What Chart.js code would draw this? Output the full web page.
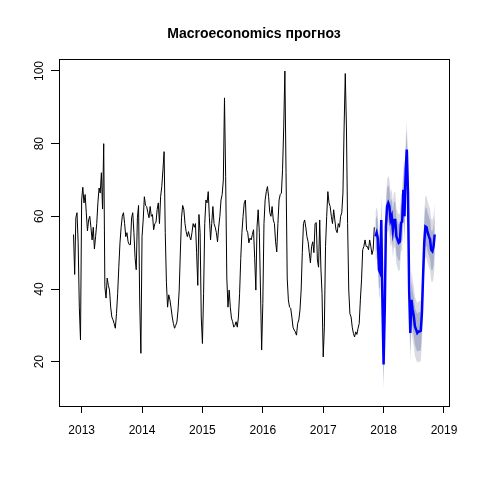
<!DOCTYPE html>
<html lang="ru">
<head>
    <meta charset="UTF-8">
    <title>Macroeconomics прогноз</title>
    <script src="https://cdn.jsdelivr.net/npm/chart.js"></script>
    <style>
        body {
            margin: 0;
            background-color: #fff;
        }
        #chart {
            display: block;
        }
    </style>
</head>
<body>
    <canvas id="chart" width="480" height="480"></canvas>

    <script>
        // weekly series, first observation is week 46 of 2012
        const startYear = 2012 + 45 / 52;
        const freq = 52;

        const history = [
            55, 44, 59.6, 61, 52.7, 35,
            26, 64.5, 68, 63.7, 66, 61,
            56, 59, 60, 57, 53.5, 57,
            51, 54.4, 58, 63.7, 67.8, 66.4,
            72, 62, 80, 40.6, 37.5, 43,
            41, 39.7, 35, 32.3, 31.5, 30.5,
            29.2, 33.2, 38.7, 46, 52.7, 57,
            60, 61, 58, 54.4, 55.5, 53,
            52.2, 52.2, 59.6, 61, 55.5, 48.6,
            45.3, 59.6, 63, 36.4, 22.3, 54.4,
            59, 65.4, 63, 62.7, 61,
            59.6, 62.7, 60, 60.5, 56.3, 58,
            58.3, 61.8, 63.7, 58, 65.4, 68.2,
            72.8, 77.8, 55.5, 41.7, 35, 38.4,
            37, 34.8, 32.3, 30.5, 29.2, 30,
            30.9, 34.2, 39.7, 50.2, 59.6, 63,
            61.8, 58, 55.8, 54.4, 55.8, 54.4,
            53.5, 55.5, 58, 57, 58, 50,
            41, 60.5, 55.5, 32.3, 25, 38.7,
            58, 64.5, 63.7, 66.8, 59.6, 53.5,
            58, 62.7, 58, 57, 55.5, 53,
            57, 60, 64.5, 66, 70, 92.6,
            71, 43, 35, 39.7, 35, 32,
            31, 29.5, 30, 31, 29.5, 32.3,
            38.7, 48.4, 55.5, 60, 63.7, 64.5,
            56.3, 55.5, 52.7, 54, 53.5, 55,
            56.3, 48.4, 39.7, 57, 61.8, 55.5,
            39.7, 23.2, 36, 58, 64.5, 66.8,
            68.2, 65.4, 61, 60, 62.7, 59,
            58, 53, 50.2, 58, 64.5, 66,
            66.4, 72.8, 84.6, 100, 72, 43,
            37, 35, 34.7, 32.3, 29.5, 28.7,
            28.2, 27.3, 30.5, 31.5, 34.2, 39.7,
            50, 58, 59, 57, 54.4, 53,
            50, 47.2, 51.7, 53, 50, 58,
            58.3, 48, 46, 59, 45.8, 38.7,
            21.3, 29.5, 51.7, 60, 66.8, 63.7,
            62.7, 60, 58, 61.8, 59, 56.3,
            55.5, 58, 57, 60, 61, 66.4,
            84.6, 99.3, 84.6, 58, 39.7, 33.2,
            32.3, 29.5, 27.8, 26.8, 28.2, 27.5,
            29.2, 30.5, 37, 42.5, 50.8, 51.7,
            53.5, 51.7, 51.7, 50.8, 53.5, 51.7,
            49.5, 50.8, 57
        ];

        const forecast = [
            54.5, 55.5, 54, 45.3, 44.5, 59, 36.2, 19.2, 34.3, 57.2,
            62.8, 63.7, 62.8, 59, 60, 56.3, 59, 59, 54.5, 53.6,
            52.7, 53, 58.2, 58.5, 67.3, 60, 72.9, 78.4, 66.5, 39.8,
            27.9, 37, 34.3, 32.5, 29.7, 28.8, 27.9, 28.3, 28.3, 28.5,
            33.4, 43.5, 52.7, 57.2, 57, 55.5, 54.5, 53.6, 50.8, 50.4, 51.7, 55
        ];

        const hi80 = [
            59.1, 60.1, 58.7, 50.0, 49.2, 63.8, 41.0, 24.0, 39.1, 62.0,
            67.7, 68.6, 67.7, 63.9, 64.9, 61.2, 63.9, 64.0, 59.5, 58.6,
            57.7, 58.0, 63.2, 63.5, 72.4, 65.1, 78.0, 83.5, 71.6, 44.9,
            33.0, 42.2, 39.5, 37.7, 34.9, 34.0, 33.1, 33.6, 33.6, 33.8,
            38.7, 48.8, 58.0, 62.5, 62.3, 60.9, 59.9, 59.0, 56.2, 55.8, 57.1, 60.4
        ];
        const lo80 = [
            49.9, 50.9, 49.3, 40.6, 39.8, 54.2, 31.4, 14.4, 29.5, 52.4,
            57.9, 58.8, 57.9, 54.1, 55.1, 51.4, 54.1, 54.0, 49.5, 48.6,
            47.7, 48.0, 53.2, 53.5, 62.2, 54.9, 67.8, 73.3, 61.4, 34.7,
            22.8, 31.8, 29.1, 27.3, 24.5, 23.6, 22.7, 23.0, 23.0, 23.2,
            28.1, 38.2, 47.4, 51.9, 51.7, 50.1, 49.1, 48.2, 45.4, 45.0, 46.3, 49.6
        ];
        const hi95 = [
            61.5, 62.5, 61.1, 52.4, 51.7, 66.2, 43.5, 26.5, 41.6, 64.6,
            70.2, 71.1, 70.3, 66.5, 67.5, 63.9, 66.6, 66.7, 62.2, 61.4,
            60.5, 60.8, 66.1, 66.4, 75.3, 68.0, 80.9, 86.4, 74.5, 47.9,
            36.0, 45.1, 42.5, 40.7, 37.9, 37.0, 36.1, 36.6, 36.6, 36.8,
            41.8, 51.9, 61.1, 65.6, 65.5, 64.0, 63.0, 62.1, 59.4, 59.0, 60.4, 63.8
        ];
        const lo95 = [
            47.5, 48.5, 46.9, 38.2, 37.3, 51.8, 28.9, 11.9, 27.0, 49.8,
            55.4, 56.3, 55.3, 51.5, 52.5, 48.7, 51.4, 51.3, 46.8, 45.8,
            44.9, 45.2, 50.3, 50.6, 59.3, 52.0, 64.9, 70.4, 58.5, 31.7,
            19.8, 28.9, 26.1, 24.3, 21.5, 20.6, 19.7, 20.0, 20.0, 20.2,
            25.0, 35.1, 44.3, 48.8, 48.5, 47.0, 46.0, 45.1, 42.2, 41.8, 43.0, 46.2
        ];

        const xTicks = [2013, 2014, 2015, 2016, 2017, 2018, 2019];
        const yTicks = [20, 40, 60, 80, 100];

        function histPoints(values) {
            return values.map((v, i) => ({ x: startYear + i / freq, y: v }));
        }

        function fcPoints(values) {
            return values.map((v, i) => ({ x: startYear + (history.length + i) / freq, y: v }));
        }

        // R style frame round the plot region
        const boxPlugin = {
            id: 'box',
            afterDraw(chart) {
                const ctx = chart.ctx;
                const a = chart.chartArea;
                ctx.save();
                ctx.strokeStyle = '#000';
                ctx.lineWidth = 1;
                ctx.strokeRect(Math.round(a.left) + 0.5, Math.round(a.top) + 0.5,
                    Math.round(a.right - a.left), Math.round(a.bottom - a.top));
                ctx.restore();
            }
        };

        const band = { pointRadius: 0, borderWidth: 0, tension: 0 };

        new Chart(document.getElementById('chart'), {
            type: 'line',
            data: {
                datasets: [
                    { data: fcPoints(forecast), borderColor: '#0000ff', borderWidth: 2.5, pointRadius: 0, fill: false },
                    { data: histPoints(history), borderColor: '#000', borderWidth: 1, pointRadius: 0, fill: false },
                    { ...band, data: fcPoints(hi80), fill: '+1', backgroundColor: '#adb2cc', borderColor: 'rgba(0,0,0,0)' },
                    { ...band, data: fcPoints(lo80), fill: false, borderColor: 'rgba(0,0,0,0)' },
                    { ...band, data: fcPoints(hi95), fill: '+1', backgroundColor: '#dadae2', borderColor: 'rgba(0,0,0,0)' },
                    { ...band, data: fcPoints(lo95), fill: false, borderColor: 'rgba(0,0,0,0)' }
                ]
            },
            options: {
                responsive: false,
                animation: false,
                devicePixelRatio: 1,
                layout: { padding: { left: 0, right: 31, top: 0, bottom: 0 } },
                plugins: {
                    legend: { display: false },
                    tooltip: { enabled: false },
                    title: {
                        display: true,
                        fullSize: false,
                        text: 'Macroeconomics прогноз',
                        color: '#000',
                        font: { family: 'Liberation Sans', size: 14, weight: 'bold' },
                        padding: { top: 26, bottom: 16.2 }
                    }
                },
                scales: {
                    x: {
                        type: 'linear',
                        min: 2012.625,
                        max: 2019.083,
                        afterBuildTicks: (s) => { s.ticks = xTicks.map(v => ({ value: v })); },
                        afterFit: (s) => { s.height = 74; },
                        grid: { drawOnChartArea: false, drawTicks: true, tickLength: 7, color: '#000' },
                        border: { display: true, color: '#000' },
                        ticks: {
                            autoSkip: false,
                            maxRotation: 0,
                            padding: 10,
                            color: '#000',
                            font: { family: 'Liberation Sans', size: 12 },
                            callback: (v) => String(v)
                        }
                    },
                    y: {
                        min: 7.8,
                        max: 103.3,
                        afterBuildTicks: (s) => { s.ticks = yTicks.map(v => ({ value: v })); },
                        afterFit: (s) => { s.width = 59; },
                        grid: { drawOnChartArea: false, drawTicks: true, tickLength: 8, color: '#000' },
                        border: { display: true, color: '#000' },
                        ticks: {
                            autoSkip: false,
                            minRotation: 90,
                            maxRotation: 90,
                            crossAlign: 'center',
                            padding: 1,
                            color: '#000',
                            font: { family: 'Liberation Sans', size: 12 },
                            callback: (v) => String(v)
                        }
                    }
                }
            },
            plugins: [boxPlugin]
        });
    </script>
</body>
</html>
